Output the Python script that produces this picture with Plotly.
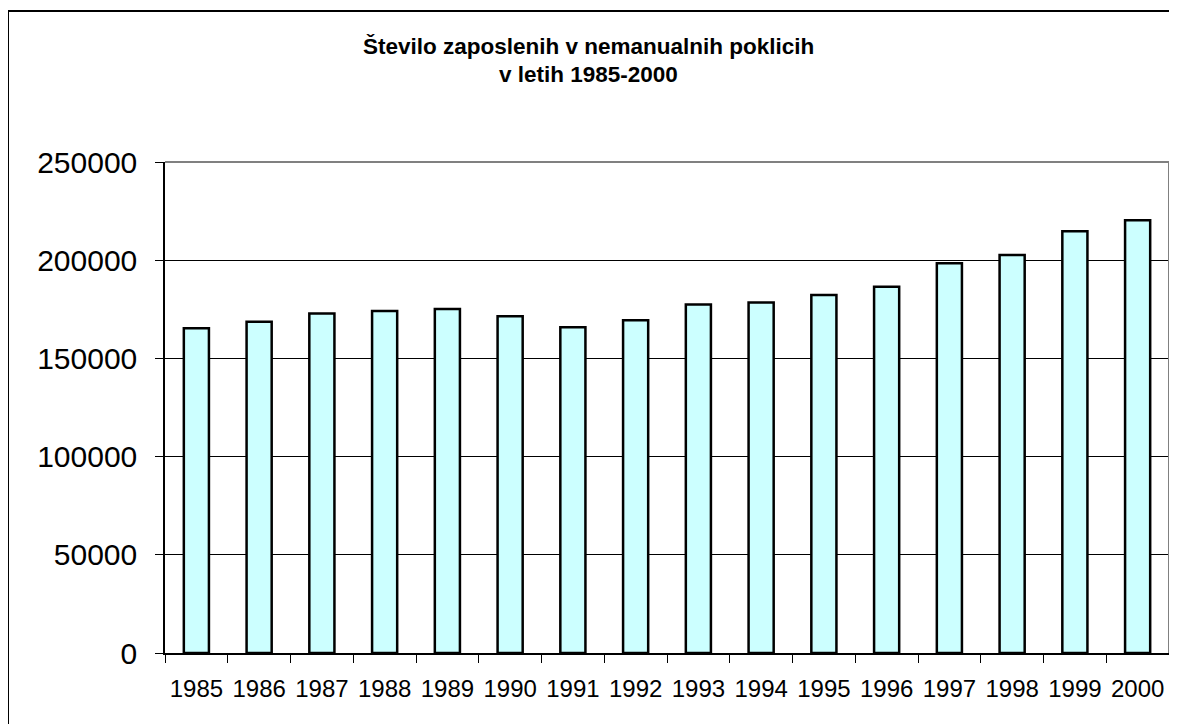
import plotly.graph_objects as go

years = [str(y) for y in range(1985, 2001)]
employed = [165300, 168700, 172900, 174100, 175200, 171400, 165800, 169400,
            177500, 178400, 182300, 186500, 198500, 202700, 214800, 220400]
title_lines = ["Število zaposlenih v nemanualnih poklicih", "v letih 1985-2000"]

# the page body has an 8px margin, so the figure starts at (8, 8)
OFF = 8
W, H = 1177 - OFF, 724 - OFF
L, R, T, B = 165 - OFF, 8, 162 - OFF, 71
pw, ph = W - L - R, H - T - B

fig = go.Figure(go.Bar(
    x=years, y=employed,
    marker=dict(color="#CCFFFF", line=dict(color="black", width=2.5)),
))

fig.update_layout(
    width=W, height=H,
    margin=dict(l=L, r=R, t=T, b=B),
    paper_bgcolor="white", plot_bgcolor="white",
    font=dict(family="Liberation Sans, Arial, sans-serif", color="black"),
    bargap=0.6,
    showlegend=False,
)

fig.update_xaxes(
    type="category", tickson="boundaries", ticks="outside", ticklen=8,
    tickcolor="black", tickwidth=1, showline=True, linecolor="black", linewidth=1.5,
    tickfont=dict(size=24), ticklabelstandoff=13, showgrid=False,
)
fig.update_yaxes(
    range=[0, 250000], dtick=50000, tickformat="d", ticks="outside", ticklen=8,
    tickcolor="black", tickwidth=1, showline=True, linecolor="black", linewidth=1.5,
    showgrid=True, gridcolor="black", gridwidth=1,
    tickfont=dict(size=30), ticklabelstandoff=12, zeroline=False,
)

# grey plot-area frame on top and right
fig.add_shape(type="line", xref="paper", yref="paper", x0=0, x1=1, y0=1, y1=1,
              line=dict(color="#808080", width=2))
fig.add_shape(type="line", xref="paper", yref="paper", x0=1, x1=1, y0=0, y1=1,
              line=dict(color="#808080", width=2))

# outer chart border (only left and top edges fall inside the picture)
fig.add_shape(type="rect", xref="paper", yref="paper",
              x0=(8 - 165) / pw, x1=1.2, y0=-0.4, y1=(653 - 11) / ph,
              line=dict(color="black", width=2), layer="below")

for i, line in enumerate(title_lines):
    fig.add_annotation(
        text="<b>%s</b>" % line, xref="paper", yref="paper",
        x=(1177 / 2 - 165) / pw, y=(653 - (46 + 28 * i)) / ph,
        xanchor="center", yanchor="middle", showarrow=False,
        font=dict(size=22.5),
    )

fig.write_html("out.html")
